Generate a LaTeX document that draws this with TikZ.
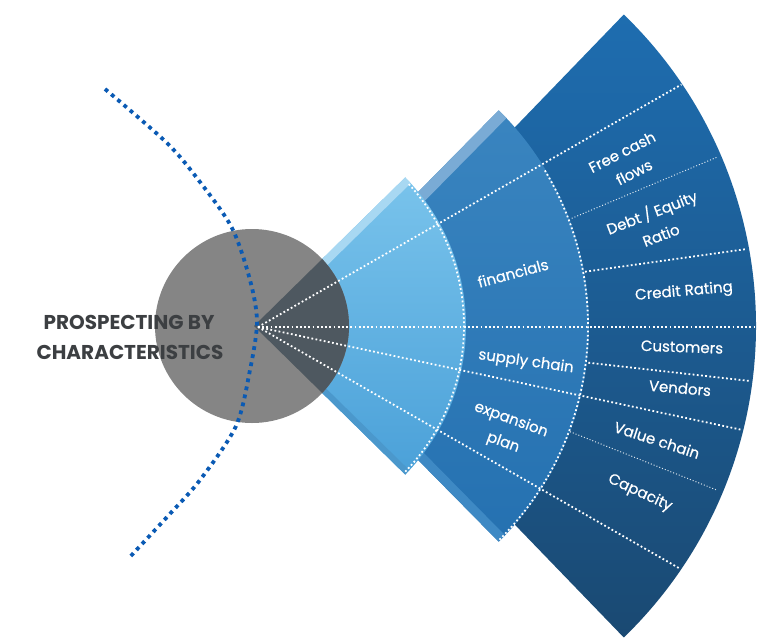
\documentclass[tikz,border=0pt]{standalone}
\usepackage{fontspec}
\setmainfont{Poppins}
\newfontfamily\lblfont{Poppins}[FakeBold=0.5]
\usetikzlibrary{calc}
\definecolor{outTop}{HTML}{1E6DB0}
\definecolor{outBot}{HTML}{1A4972}
\definecolor{midTop}{HTML}{3A85C0}
\definecolor{midBot}{HTML}{2470B0}
\definecolor{midBandTop}{HTML}{7AABD5}
\definecolor{midBandBot}{HTML}{3E89C4}
\definecolor{inTop}{HTML}{7AC4EC}
\definecolor{inBot}{HTML}{4AA0D8}
\definecolor{inBandTop}{HTML}{A8D8F2}
\definecolor{inBandBot}{HTML}{4B98CC}
\definecolor{discGray}{HTML}{858585}
\definecolor{discDark}{HTML}{4E5860}
\definecolor{arcBlue}{HTML}{0A5AB4}
\definecolor{titleGray}{HTML}{3C3F42}
\begin{document}
\begin{tikzpicture}[x=1pt,y=1pt,
  lbl/.style={text=white, font=\lblfont\fontsize{15}{22}\selectfont, inner sep=0pt},
  ttl/.style={text=titleGray, font=\bfseries\fontsize{20}{22}\selectfont, inner sep=0pt},
  wdot/.style={draw=white, line width=1.8pt, dash pattern=on 1.8pt off 2.4pt},
  wfine/.style={draw=white, line width=1pt, dash pattern=on 1pt off 2pt, draw opacity=0.85},
  bluedots/.style={draw=arcBlue, line width=3.8pt, dash pattern=on 3.8pt off 4.4pt}]
\useasboundingbox (0,0) rectangle (768,-641);
\coordinate (C) at (258,-327);
\coordinate (O1) at (254,-326);
\coordinate (O2) at (286,-326);
\coordinate (O3) at (323,-326);
\coordinate (D) at (252,-326);

% outer sector
\shade[top color=outTop, bottom color=outBot] (O3) -- ++(46:433pt) arc[start angle=46,end angle=-46,radius=433pt] -- cycle;

% middle sector
\begin{scope}
\clip (O2) -- ++(45.4:303pt) arc[start angle=45.4,end angle=-45.4,radius=303pt] -- cycle;
\shade[top color=midTop, bottom color=midBot] (270,-100) rectangle (600,-560);
\draw[line width=22pt, midBandTop] (O2) -- ++(45.4:330pt);
\draw[line width=18pt, midBandBot] (O2) -- ++(-45.4:330pt);
\end{scope}

% inner sector
\begin{scope}
\clip (O1) -- ++(44.5:212pt) arc[start angle=44.5,end angle=-44.5,radius=212pt] -- cycle;
\shade[top color=inTop, bottom color=inBot] (240,-170) rectangle (470,-480);
\draw[line width=16pt, inBandTop] (O1) -- ++(44.5:230pt);
\draw[line width=12pt, inBandBot] (O1) -- ++(-44.5:230pt);
\end{scope}

% grey disc and its overlap
\fill[discGray] (D) circle[radius=97pt];
\begin{scope}
\clip (O1) -- ++(44.5:212pt) arc[start angle=44.5,end angle=-44.5,radius=212pt] -- cycle;
\fill[discDark] (D) circle[radius=97pt];
\end{scope}

% dotted arcs
\draw[wdot] ($(O1)+(42.5:210pt)$) arc[start angle=42.5,end angle=-44,radius=210pt];
\draw[wdot] ($(O2)+(31:302pt)$) arc[start angle=31,end angle=-45,radius=302pt];

% radial dotted lines
\draw[wdot] (C) -- ++(29.8:488pt);
\draw[wdot] (C) -- ++(0:497pt);
\draw[wdot] (C) -- ++(-12:495pt);
\draw[wdot] (C) -- ++(-29.8:487pt);

% outer band dividers
\coordinate (a1) at (571.7,-218.3); \coordinate (a2) at (716.7,-157.3);
\coordinate (b1) at (585,-271.7);   \coordinate (b2) at (746.7,-249);
\coordinate (c1) at (588.3,-362.7); \coordinate (c2) at (750,-381);
\coordinate (d1) at (570,-431.7);   \coordinate (d2) at (716.7,-490);
\draw[wfine] (a1) -- (a2);
\draw[wdot] (b1) -- (b2);
\draw[wdot] (c1) -- (c2);
\draw[wfine] (d1) -- (d2);

% blue dotted arc
\draw[bluedots] plot[smooth] coordinates {(105,-89) (167,-143) (200,-182) (232,-228) (250,-280) (257,-322) (250,-370) (236,-426) (200,-480) (167,-517) (128,-559)};

% title
\node[ttl] (t1) at (129,-322) {PROSPECTING BY};
\node[ttl] (t2) at (130,-352) {CHARACTERISTICS};

% labels
\node[lbl, rotate=15] (fin) at (513,-273) {financials};
\node[lbl, rotate=-8] (sup) at (526,-362) {supply chain};
\node[lbl, rotate=-20] (exp1) at (511,-420) {expansion};
\node[lbl, rotate=-20] (exp2) at (503,-443) {plan};
\node[lbl, rotate=27] (fcf1) at (622,-152) {Free cash};
\node[lbl, rotate=27] (fcf2) at (634,-172) {flows};
\node[lbl, rotate=21] (dte1) at (652,-213) {Debt / Equity};
\node[lbl, rotate=21] (dte2) at (661,-235) {Ratio};
\node[lbl, rotate=5] (cr) at (684,-292) {Credit Rating};
\node[lbl, rotate=-2] (cus) at (682,-347) {Customers};
\node[lbl, rotate=-5] (ven) at (680,-388) {Vendors};
\node[lbl, rotate=-18] (val) at (657,-440) {Value chain};
\node[lbl, rotate=-25] (cap) at (640,-493) {Capacity};
\end{tikzpicture}
\end{document}
